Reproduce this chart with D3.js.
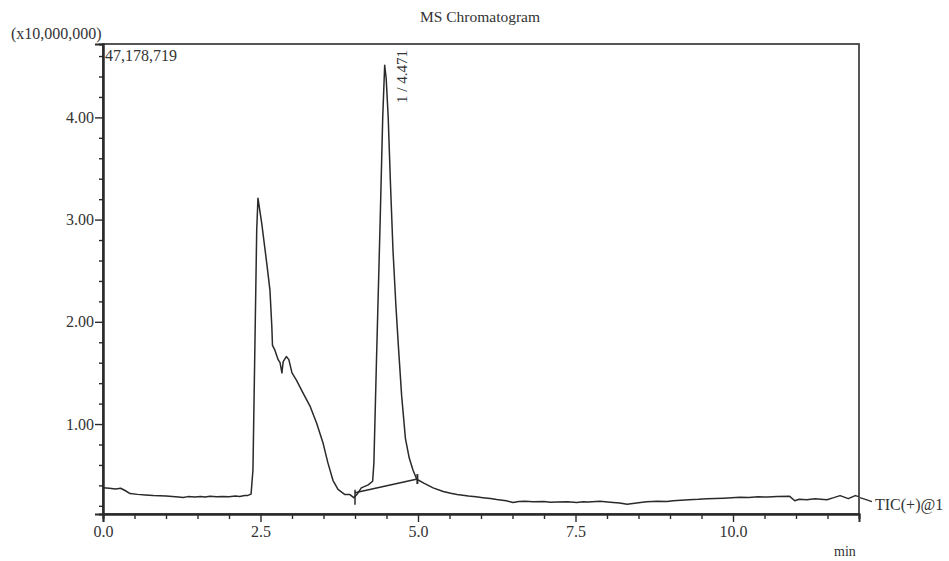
<!DOCTYPE html>
<html>
<head>
<meta charset="utf-8">
<script src="https://cdn.jsdelivr.net/npm/d3@7"></script>
<style>
  html, body { margin: 0; padding: 0; background: #fff; }
  svg text { font-family: "Liberation Serif", "Times New Roman", serif; fill: #333; }
</style>
</head>
<body>
<svg id="chart" width="949" height="561"></svg>
<script>
// Retention time (min)
const times = [
  0.00, 0.10, 0.20, 0.28, 0.35, 0.43, 0.55, 0.67, 0.80, 0.90,
  1.00, 1.10, 1.20, 1.27, 1.35, 1.46, 1.55, 1.62, 1.70, 1.80,
  1.90, 2.00, 2.10, 2.17, 2.25, 2.30, 2.35, 2.38, 2.41, 2.44,
  2.46, 2.52, 2.60, 2.65, 2.68, 2.69, 2.73, 2.78, 2.81, 2.84,
  2.86, 2.91, 2.95, 3.00, 3.07, 3.17, 3.29, 3.39, 3.49, 3.57,
  3.65, 3.73, 3.84, 3.92, 3.98, 4.03, 4.10, 4.21, 4.28, 4.30,
  4.34, 4.40, 4.44, 4.471, 4.495, 4.527, 4.563, 4.603, 4.65, 4.69,
  4.74, 4.80, 4.86, 4.92, 4.98, 5.10, 5.24, 5.40, 5.52, 5.62,
  5.80, 5.92, 6.03, 6.15, 6.25, 6.40, 6.51, 6.60, 6.70, 6.83,
  7.00, 7.10, 7.20, 7.37, 7.52, 7.62, 7.70, 7.89, 8.05, 8.20,
  8.32, 8.50, 8.63, 8.80, 8.95, 9.05, 9.30, 9.45, 9.59, 9.85,
  10.11, 10.25, 10.40, 10.55, 10.70, 10.90, 10.98, 11.05, 11.17, 11.30,
  11.49, 11.60, 11.70, 11.83, 11.94, 12.00
];
// TIC intensity (x10,000,000)
const intensity = [
  0.376, 0.372, 0.365, 0.372, 0.350, 0.320, 0.312, 0.306, 0.300, 0.298,
  0.295, 0.290, 0.286, 0.282, 0.290, 0.286, 0.292, 0.286, 0.294, 0.288,
  0.292, 0.288, 0.296, 0.292, 0.300, 0.302, 0.315, 0.55, 1.72, 2.90,
  3.21, 2.96, 2.57, 2.31, 1.95, 1.77, 1.72, 1.63, 1.60, 1.50,
  1.61, 1.66, 1.63, 1.50, 1.43, 1.31, 1.17, 1.01, 0.82, 0.62,
  0.45, 0.36, 0.31, 0.31, 0.28, 0.31, 0.376, 0.405, 0.44, 0.62,
  1.60, 3.00, 4.00, 4.51, 4.38, 4.00, 3.35, 2.70, 2.15, 1.75,
  1.28, 0.86, 0.67, 0.55, 0.46, 0.42, 0.376, 0.34, 0.322, 0.31,
  0.295, 0.288, 0.28, 0.272, 0.262, 0.250, 0.232, 0.242, 0.245, 0.24,
  0.242, 0.236, 0.238, 0.24, 0.232, 0.240, 0.238, 0.244, 0.236, 0.228,
  0.215, 0.230, 0.24, 0.245, 0.242, 0.25, 0.26, 0.264, 0.27, 0.275,
  0.283, 0.281, 0.288, 0.286, 0.292, 0.293, 0.25, 0.265, 0.26, 0.268,
  0.26, 0.28, 0.30, 0.27, 0.30, 0.29
];
// Integration baseline of peak 1: [start, end] times and levels
const baselineTimes = [4.00, 4.99];
const baselineLevels = [0.327, 0.462];
const peakLabel = "1 / 4.471";
const peakTime = 4.471;
const xMajorTicks = [0, 2.5, 5, 7.5, 10];
const xTickLabels = ["0.0", "2.5", "5.0", "7.5", "10.0"];
const yMajorTicks = [1, 2, 3, 4];
const yTickLabels = ["1.00", "2.00", "3.00", "4.00"];
const yMax = 4.7178719;
const yMaxLabel = "47,178,719";

const svg = d3.select("#chart");
const pL = 103, pR = 859, pT = 44, pB = 514;

const x = d3.scaleLinear().domain([0, 12]).range([pL, pR]);
const y = d3.scaleLinear().domain([0.12, yMax]).range([pB, pT]);

const ink = "#2a2a2a";

// Frame
svg.append("rect")
  .attr("x", pL).attr("y", pT)
  .attr("width", pR - pL).attr("height", pB - pT)
  .attr("fill", "none").attr("stroke", "#444").attr("stroke-width", 1.8);

// Y axis ticks
const yMinor = d3.range(0.2, 4.61, 0.2).filter(v => !yMajorTicks.some(m => Math.abs(m - v) < 1e-6));
const yAxisMinor = d3.axisLeft(y).tickValues(yMinor).tickSize(4).tickFormat("");
const yAxisMajor = d3.axisLeft(y).tickValues(yMajorTicks).tickSize(8).tickPadding(1)
  .tickFormat((d, i) => yTickLabels[i]);
[yAxisMinor, yAxisMajor].forEach(ax => {
  const g = svg.append("g").attr("transform", `translate(${pL},0)`).call(ax);
  g.select(".domain").attr("stroke", ink).attr("stroke-width", 2);
  g.selectAll(".tick line").attr("stroke", ink).attr("stroke-width", 1.4);
  g.selectAll(".tick text").attr("font-family", "Liberation Serif").attr("font-size", 16).attr("fill", "#444");
});

// X axis ticks
const xMinor = d3.range(0.5, 12, 0.5).filter(v => !xMajorTicks.some(m => Math.abs(m - v) < 1e-6));
const xAxisMinor = d3.axisBottom(x).tickValues(xMinor).tickSize(5).tickFormat("");
const xAxisMajor = d3.axisBottom(x).tickValues(xMajorTicks).tickSize(8).tickPadding(4)
  .tickFormat((d, i) => xTickLabels[i]);
[xAxisMinor, xAxisMajor].forEach(ax => {
  const g = svg.append("g").attr("transform", `translate(0,${pB})`).call(ax);
  g.select(".domain").attr("stroke", ink).attr("stroke-width", 2);
  g.selectAll(".tick line").attr("stroke", ink).attr("stroke-width", 1.4);
  g.selectAll(".tick text").attr("font-family", "Liberation Serif").attr("font-size", 16).attr("fill", "#444");
});

// Trace
const pts = times.map((t, i) => [t, intensity[i]]);
const line = d3.line().x(d => x(d[0])).y(d => y(d[1]));
svg.append("path")
  .datum(pts)
  .attr("d", line)
  .attr("fill", "none")
  .attr("stroke", ink)
  .attr("stroke-width", 1.5)
  .attr("stroke-linejoin", "round");

// Integration baseline
const bl = baselineTimes.map((t, i) => [t, baselineLevels[i]]);
svg.append("path").datum(bl).attr("d", line)
  .attr("fill", "none").attr("stroke", ink).attr("stroke-width", 1.5);
// baseline markers
svg.append("line")
  .attr("x1", x(baselineTimes[0])).attr("x2", x(baselineTimes[0]))
  .attr("y1", y(baselineLevels[0]) - 3).attr("y2", y(baselineLevels[0]) + 12)
  .attr("stroke", ink).attr("stroke-width", 1.5);
svg.append("line")
  .attr("x1", x(baselineTimes[1])).attr("x2", x(baselineTimes[1]))
  .attr("y1", y(baselineLevels[1]) - 5).attr("y2", y(baselineLevels[1]) + 5)
  .attr("stroke", ink).attr("stroke-width", 2);

// Peak label (rotated)
svg.append("text")
  .attr("transform", `translate(${x(peakTime) + 22},50) rotate(-90)`)
  .attr("text-anchor", "end")
  .attr("font-size", 15)
  .text(peakLabel);

// Title
svg.append("text")
  .attr("x", 480).attr("y", 22)
  .attr("text-anchor", "middle")
  .attr("font-size", 15.5)
  .text("MS Chromatogram");

// Y multiplier and max
svg.append("text").attr("x", 11).attr("y", 39).attr("font-size", 16).text("(x10,000,000)");
svg.append("text").attr("x", 105).attr("y", 61).attr("font-size", 16).text(yMaxLabel);

// X unit
svg.append("text").attr("x", 834).attr("y", 556).attr("font-size", 14).text("min");

// Trace label
const lastV = intensity[intensity.length - 1];
svg.append("line")
  .attr("x1", x(12) + 1).attr("y1", y(lastV) + 1)
  .attr("x2", x(12) + 13).attr("y2", y(lastV) + 5)
  .attr("stroke", ink).attr("stroke-width", 1.3);
svg.append("text").attr("x", 875).attr("y", 510).attr("font-size", 16).text("TIC(+)@1");
</script>
</body>
</html>
